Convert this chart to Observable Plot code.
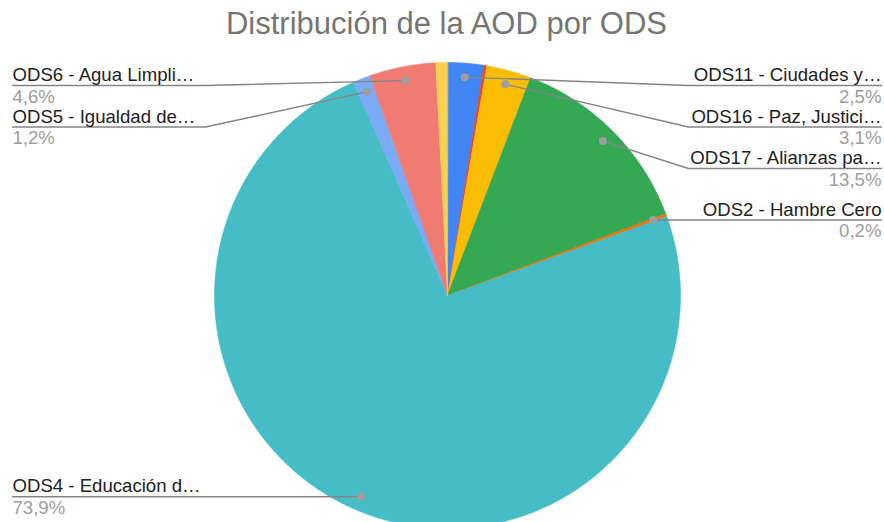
<!DOCTYPE html>
<html>
<head>
<meta charset="utf-8">
<script src="https://cdn.jsdelivr.net/npm/d3@7"></script>
<script src="https://cdn.jsdelivr.net/npm/@observablehq/plot@0.6"></script>
<style>
  html, body { margin: 0; padding: 0; background: #fff; }
  #title { box-sizing: content-box; height: 46px; padding-top: 4px; padding-left: 9px; line-height: 40px;
           font-family: "Liberation Sans", Arial, sans-serif; font-size: 31px; color: #757575; text-align: center; white-space: nowrap; }
  #chart { width: 884px; height: 472px; overflow: hidden; }
</style>
</head>
<body>
<div id="title">Distribución de la AOD por ODS</div>
<div id="chart"></div>
<script>
// ---- Data ----
const categories = [
  "ODS11 - Ciudades y…",
  "ODS (sin etiqueta A)",
  "ODS16 - Paz, Justici…",
  "ODS17 - Alianzas pa…",
  "ODS2 - Hambre Cero",
  "ODS4 - Educación d…",
  "ODS5 - Igualdad de…",
  "ODS6 - Agua Limpli…",
  "ODS (sin etiqueta B)"
];
const values = [2.5, 0.2, 3.1, 13.5, 0.2, 73.9, 1.2, 4.6, 0.8];
const showLabel = [true, false, true, true, true, true, true, true, false];
const colors = ["#4285F4", "#EA4335", "#FBBC04", "#34A853", "#FF6D01", "#46BDC6", "#7BAAF7", "#F07B72", "#FCD04F"];

// ---- Layout ----
const W = 884, H = 472;
const CX = 447, CY = 245, R = 233;
const dotR = 0.94 * R;
const leftTextX = 12 - CX, rightTextX = 881 - CX;
const leftJoinX = 205 - CX, rightJoinX = 688 - CX;
const minLineY = 85 - 50 - CY, lineGap = 41.5;

const fmt = v => v.toFixed(1).replace(".", ",") + "%";

const arcs = d3.pie().sort(null).value(d => d)(values);

// slice polygons
const slicePts = [];
arcs.forEach((a, i) => {
  const name = categories[i];
  slicePts.push({name, x: 0, y: 0});
  const n = Math.max(2, Math.ceil((a.endAngle - a.startAngle) / 0.008));
  for (let k = 0; k <= n; k++) {
    const t = a.startAngle + (a.endAngle - a.startAngle) * k / n;
    slicePts.push({name, x: R * Math.sin(t), y: -R * Math.cos(t)});
  }
});

// label layout
const labels = arcs.map((a, i) => {
  const mid = (a.startAngle + a.endAngle) / 2;
  return {
    name: categories[i], pct: fmt(values[i]), show: showLabel[i],
    dx: dotR * Math.sin(mid), dy: -dotR * Math.cos(mid),
    side: mid > Math.PI ? "left" : "right"
  };
}).filter(d => d.show);

for (const side of ["left", "right"]) {
  const group = labels.filter(d => d.side === side).sort((a, b) => a.dy - b.dy);
  let prev = -Infinity;
  for (const d of group) {
    d.ly = Math.max(d.dy, prev + lineGap, minLineY);
    prev = d.ly;
    d.tx = side === "left" ? leftTextX : rightTextX;
    d.jx = side === "left" ? leftJoinX : rightJoinX;
  }
}

const leaderPts = [];
labels.forEach(d => {
  leaderPts.push({name: d.name, x: d.tx, y: d.ly});
  leaderPts.push({name: d.name, x: d.jx, y: d.ly});
  leaderPts.push({name: d.name, x: d.dx, y: d.dy});
});

const textMarks = side => {
  const data = labels.filter(d => d.side === side);
  const anchor = side === "left" ? "start" : "end";
  return [
    Plot.text(data, {x: "tx", y: d => d.ly - 4.5, text: "name", textAnchor: anchor, lineAnchor: "bottom",
                     fontSize: 18.6, fill: "#222222"}),
    Plot.text(data, {x: "tx", y: d => d.ly + 17, text: "pct", textAnchor: anchor, lineAnchor: "bottom",
                     fontSize: 18.6, fill: "#9e9e9e"})
  ];
};

const chart = Plot.plot({
  width: W, height: H, margin: 0,
  x: {domain: [-CX, W - CX], range: [0, W], axis: null},
  y: {domain: [-CY, H - CY], range: [0, H], axis: null},
  color: {type: "ordinal", domain: categories, range: colors, legend: false},
  style: {fontFamily: "'Liberation Sans', Arial, sans-serif", background: "#fff", overflow: "hidden"},
  marks: [
    Plot.line(slicePts, {x: "x", y: "y", z: "name", fill: "name", stroke: "name", strokeWidth: 0.6, curve: "linear-closed"}),
    Plot.line(leaderPts, {x: "x", y: "y", z: "name", stroke: "#858585", strokeWidth: 1.4}),
    Plot.dot(labels, {x: "dx", y: "dy", r: 4, fill: "#9e9e9e", stroke: null}),
    ...textMarks("left"),
    ...textMarks("right")
  ]
});
document.getElementById("chart").appendChild(chart);
</script>
</body>
</html>
